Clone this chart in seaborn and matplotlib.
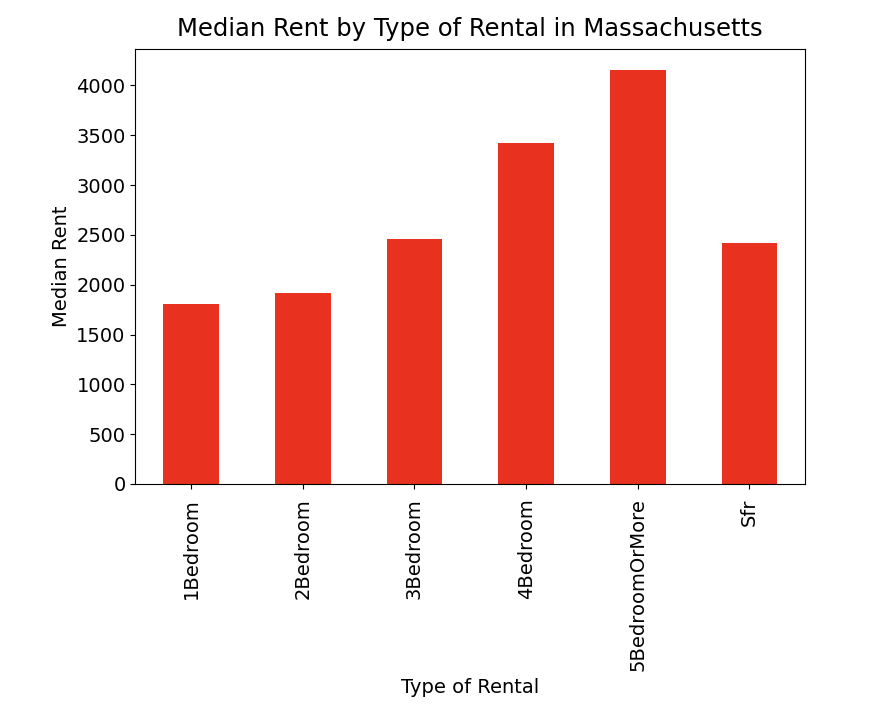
import matplotlib
matplotlib.use('Agg')
import matplotlib.pyplot as plt
import pandas as pd
import seaborn as sns

## Median rent per rental type
rental_types = ['1Bedroom', '2Bedroom', '3Bedroom', '4Bedroom', '5BedroomOrMore', 'Sfr']
median_rent = [1803, 1920, 2463, 3423, 4160, 2423]

df = pd.DataFrame({'Type': rental_types, 'MedianRent': median_rent})

fig = plt.figure(figsize=(8.84, 7.18), dpi=100)
ax = fig.add_axes([0.153, 0.326, 0.758, 0.606])
sns.barplot(x='Type', y='MedianRent', data=df, color='#e8321f', saturation=1, width=0.5, ax=ax)
ax.set_xlim(-0.5, len(rental_types) - 0.5)
ax.set_ylim(0, max(median_rent) * 1.05)
ax.set_yticks(range(0, 4001, 500))
ax.tick_params(axis='x', labelrotation=90, labelsize=14, pad=7)
ax.tick_params(axis='y', labelsize=14)
ax.set_title('Median Rent by Type of Rental in Massachusetts', fontsize=17.5, pad=9)
ax.set_xlabel('Type of Rental', fontsize=14, labelpad=5)
ax.set_ylabel('Median Rent', fontsize=14)
fig.savefig('out.png', dpi=100)
